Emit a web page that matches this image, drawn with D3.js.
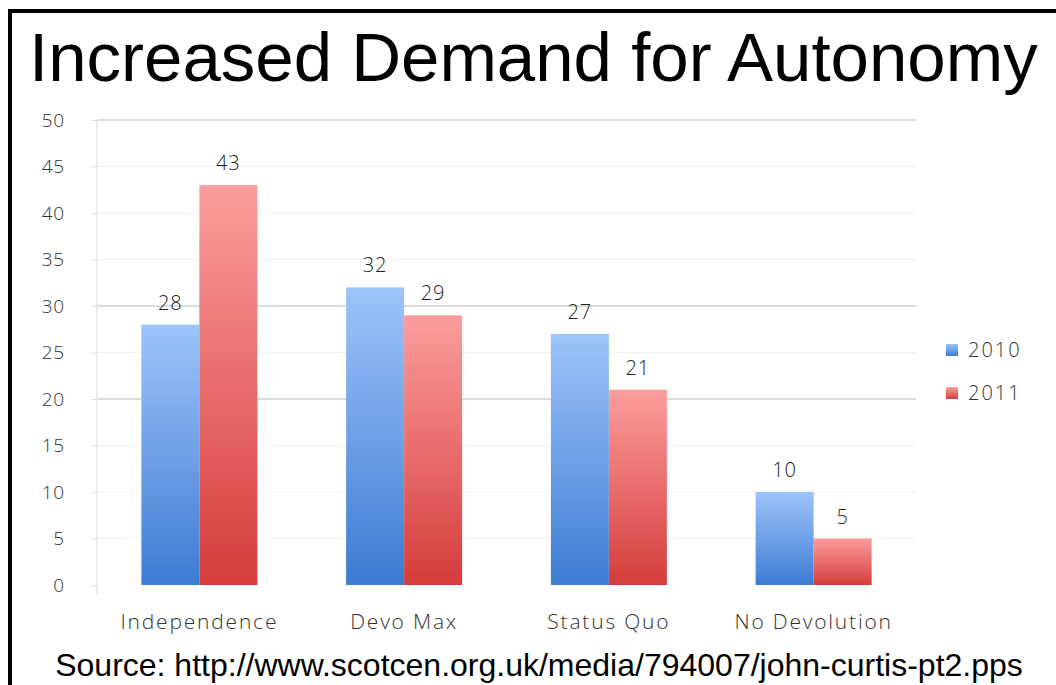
<!DOCTYPE html>
<html>
<head>
<meta charset="utf-8">
<script src="https://cdn.jsdelivr.net/npm/d3@7"></script>
<style>
  html, body { margin: 0; padding: 0; background: #fff; }
  svg { display: block; }
  .lite { font-family: "Open Sans", "DejaVu Sans", sans-serif; font-weight: 300; }
</style>
</head>
<body>
<svg width="1056" height="685"></svg>
<script>
const categories = ["Independence", "Devo Max", "Status Quo", "No Devolution"];
const seriesNames = ["2010", "2011"];
const values2010 = [28, 32, 27, 10];
const values2011 = [43, 29, 21, 5];
const yTicks = [0, 5, 10, 15, 20, 25, 30, 35, 40, 45, 50];
const strongLines = [20, 30, 50];

const svg = d3.select("svg");
const W = 1056, H = 685;

// slide frame: top and left edges only
svg.append("path")
  .attr("d", `M10,${H} V11 H${W}`)
  .attr("fill", "none")
  .attr("stroke", "#000")
  .attr("stroke-width", 4);

svg.append("text")
  .attr("x", 29).attr("y", 81)
  .attr("font-family", "Liberation Sans, Arial, sans-serif")
  .attr("font-size", 69)
  .attr("fill", "#000")
  .text("Increased Demand for Autonomy");

svg.append("text")
  .attr("x", 539).attr("y", 676)
  .attr("text-anchor", "middle")
  .attr("font-family", "Liberation Sans, Arial, sans-serif")
  .attr("font-size", 32)
  .attr("fill", "#000")
  .text("Source: http://www.scotcen.org.uk/media/794007/john-curtis-pt2.pps");

const plot = { left: 97, right: 916, top: 120, bottom: 585 };

const x = d3.scaleBand().domain(categories).range([plot.left, plot.right]);
const xs = d3.scaleBand().domain(seriesNames)
  .range([x.bandwidth() / 2 - 58, x.bandwidth() / 2 + 58]);
const y = d3.scaleLinear().domain([0, 50]).range([plot.bottom, plot.top]);

// gradients
const defs = svg.append("defs");
const gradStops = {
  "2010": ["#9dc4fa", "#3d7cd3"],
  "2011": ["#fb9d9d", "#d43d3b"]
};
seriesNames.forEach(s => {
  const g = defs.append("linearGradient")
    .attr("id", "g" + s).attr("x1", 0).attr("y1", 0).attr("x2", 0).attr("y2", 1);
  g.append("stop").attr("offset", "0%").attr("stop-color", gradStops[s][0]);
  g.append("stop").attr("offset", "100%").attr("stop-color", gradStops[s][1]);
});

// gridlines
svg.append("g").selectAll("line")
  .data(yTicks.filter(d => d > 0))
  .enter().append("line")
  .attr("x1", plot.left).attr("x2", plot.right)
  .attr("y1", d => y(d)).attr("y2", d => y(d))
  .attr("stroke", d => strongLines.includes(d) ? "#b8b8b8" : "#f2f2f2")
  .attr("stroke-width", 1.2);

// y axis
const yAxis = svg.append("g")
  .attr("transform", `translate(${plot.left},0)`)
  .call(d3.axisLeft(y).tickValues(yTicks).tickSize(6).tickPadding(26));
yAxis.select(".domain").attr("stroke", "#d9d9d9").attr("d", `M0,${plot.top}V${plot.bottom + 10}`);
yAxis.selectAll(".tick line").attr("stroke", "#e0e0e0");
yAxis.selectAll("text")
  .attr("class", "lite")
  .attr("font-size", 19)
  .attr("letter-spacing", 0.8)
  .attr("fill", "#333");

// category labels
svg.append("g").selectAll("text")
  .data(categories)
  .enter().append("text")
  .attr("class", "lite")
  .attr("x", d => x(d) + x.bandwidth() / 2)
  .attr("y", 629)
  .attr("text-anchor", "middle")
  .attr("font-size", 21)
  .attr("letter-spacing", 1.8)
  .attr("fill", "#333")
  .text(d => d);

// bars
const rows = [];
categories.forEach((c, i) => {
  rows.push({ cat: c, s: "2010", v: values2010[i] });
  rows.push({ cat: c, s: "2011", v: values2011[i] });
});

svg.append("g").selectAll("rect")
  .data(rows)
  .enter().append("rect")
  .attr("x", d => x(d.cat) + xs(d.s))
  .attr("width", xs.bandwidth())
  .attr("y", d => y(d.v))
  .attr("height", d => y(0) - y(d.v))
  .attr("fill", d => `url(#g${d.s})`);

svg.append("g").selectAll("text")
  .data(rows)
  .enter().append("text")
  .attr("class", "lite")
  .attr("x", d => x(d.cat) + xs(d.s) + xs.bandwidth() / 2)
  .attr("y", d => y(d.v) - 15)
  .attr("text-anchor", "middle")
  .attr("font-size", 20)
  .attr("letter-spacing", 1)
  .attr("fill", "#222")
  .text(d => d.v);

// legend
const legend = svg.append("g").attr("transform", "translate(946,344)");
seriesNames.forEach((s, i) => {
  const row = legend.append("g").attr("transform", `translate(0,${i * 43})`);
  row.append("rect").attr("width", 12).attr("height", 12).attr("fill", `url(#g${s})`);
  row.append("text")
    .attr("class", "lite")
    .attr("x", 22).attr("y", 13)
    .attr("font-size", 20)
    .attr("letter-spacing", 2)
    .attr("fill", "#333")
    .text(s);
});
</script>
</body>
</html>
